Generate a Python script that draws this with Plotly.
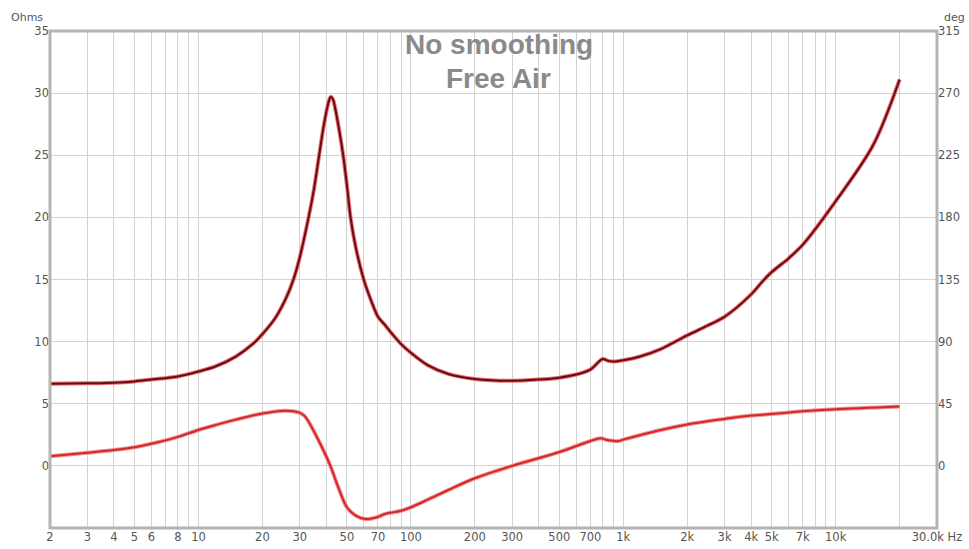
import plotly.graph_objects as go

# Impedance magnitude (Ohms)
imp_freq = [2, 3, 4, 5, 6, 8, 10, 12, 15, 18, 20, 23, 26, 28, 30, 33, 35, 37, 39, 41, 42, 43, 44, 46, 48, 50, 52, 55, 60, 65, 70, 75, 80, 90, 100,
            120, 150, 200, 300, 400, 500, 600, 700, 800, 850, 900, 1000, 1200, 1500, 2000, 2500, 3000, 4000, 4500, 5000, 6000, 7000,
            10000, 15000, 20000]
imp_ohm = [6.6, 6.65, 6.7, 6.8, 6.95, 7.2, 7.6, 8.0, 8.8, 9.8, 10.6, 11.9, 13.6, 15.0, 16.8, 20.0, 22.3, 25.0, 27.5, 29.3, 29.7, 29.5, 28.8, 27.0, 25.0, 22.6, 20.0, 17.6, 15.0, 13.3, 12.0, 11.4, 10.8, 9.8, 9.1,
           8.1, 7.4, 7.0, 6.85, 6.95, 7.1, 7.35, 7.75, 8.6, 8.45, 8.4, 8.5, 8.8, 9.4, 10.5, 11.3, 12.0, 13.8, 14.8, 15.6, 16.7, 17.8,
           21.3, 25.8, 31.1]

# Impedance phase (deg)
ph_freq = [2, 3, 4, 5, 6, 8, 10, 12, 15, 20, 25.6, 28, 30, 31.5, 33, 38, 41.8, 45.4, 50, 55, 61, 66, 70, 75, 80, 90, 100,
           120, 150, 200, 300, 500, 700, 780, 850, 950, 1000, 1500, 2000, 3000, 4000, 5000, 7000, 10000, 20000]
ph_deg = [7, 9.5, 11.5, 13.5, 16, 21, 26, 29.5, 33.5, 38, 40, 39.6, 38.4, 36.4, 32, 14, 0, -15, -30, -36, -38.5, -38, -37, -35, -34, -32.5, -30,
          -24.5, -17.5, -9, 0, 10, 18, 20, 18.5, 18, 19, 26, 30, 34, 36.5, 37.5, 39.5, 41, 43]

x_ticks = [2, 3, 4, 5, 6, 7, 8, 9, 10, 20, 30, 40, 50, 60, 70, 80, 90, 100, 200, 300, 400, 500, 600, 700, 800, 900, 1000,
           2000, 3000, 4000, 5000, 6000, 7000, 8000, 9000, 10000, 20000, 30000]
x_labels = ["2", "3", "4", "5", "6", "", "8", "", "10", "20", "30", "", "50", "", "70", "", "", "100", "200", "300", "", "500", "", "700", "", "", "1k",
            "2k", "3k", "4k", "5k", "", "7k", "", "", "10k", "", "30.0k Hz"]
y_ticks = [0, 5, 10, 15, 20, 25, 30, 35]
y2_ticks = [0, 45, 90, 135, 180, 225, 270, 315]

fig = go.Figure()
fig.add_trace(go.Scatter(x=ph_freq, y=ph_deg, yaxis="y2", mode="lines", line=dict(color="#f29090", width=4, shape="spline", smoothing=0.9), hoverinfo="skip", showlegend=False))
fig.add_trace(go.Scatter(x=ph_freq, y=ph_deg, yaxis="y2", mode="lines", line=dict(color="#d42828", width=2, shape="spline", smoothing=0.9), name="Phase", showlegend=False))
fig.add_trace(go.Scatter(x=imp_freq, y=imp_ohm, mode="lines", line=dict(color="#e87070", width=4, shape="spline", smoothing=0.9), hoverinfo="skip", showlegend=False))
fig.add_trace(go.Scatter(x=imp_freq, y=imp_ohm, mode="lines", line=dict(color="#6a0a16", width=2, shape="spline", smoothing=0.9), name="Impedance", showlegend=False))

tickfont = dict(family="DejaVu Sans", size=11.5, color="#555555")
fig.update_layout(
    width=969, height=549,
    margin=dict(l=50, r=32, t=31, b=21),
    paper_bgcolor="white", plot_bgcolor="white",
    xaxis=dict(type="log", range=[0.30103, 4.47712], tickvals=x_ticks, ticktext=x_labels, showgrid=True,
               gridcolor="#d2d2d2", gridwidth=1, zeroline=False, showline=False, ticks="", tickfont=tickfont,
               automargin=False),
    yaxis=dict(range=[-5, 35], tickvals=y_ticks, showgrid=True, gridcolor="#d2d2d2", gridwidth=1, zeroline=False,
               showline=False, ticks="", tickfont=tickfont, automargin=False),
    yaxis2=dict(range=[-45, 315], tickvals=y2_ticks, overlaying="y", side="right", showgrid=False, zeroline=False,
                showline=False, ticks="", tickfont=tickfont, automargin=False),
    shapes=[dict(type="rect", xref="paper", yref="paper", x0=0, x1=1, y0=0, y1=1,
                 line=dict(color="#b4b4b4", width=3), layer="above")],
    annotations=[
        dict(text="<b>No smoothing</b>", xref="paper", yref="paper", x=0.506, y=0.972, showarrow=False,
             xanchor="center", yanchor="middle", font=dict(family="Liberation Sans", size=28, color="#8a8a8a")),
        dict(text="<b>Free Air</b>", xref="paper", yref="paper", x=0.506, y=0.905, showarrow=False,
             xanchor="center", yanchor="middle", font=dict(family="Liberation Sans", size=28, color="#8a8a8a")),
        dict(text="Ohms", xref="paper", yref="paper", x=-0.0056, y=1.028, showarrow=False, xanchor="right", yanchor="middle",
             font=dict(family="DejaVu Sans", size=11, color="#555555")),
        dict(text="deg", xref="paper", yref="paper", x=1.0056, y=1.028, showarrow=False, xanchor="left", yanchor="middle",
             font=dict(family="DejaVu Sans", size=11, color="#555555")),
    ],
)

fig.write_html("out.html")
